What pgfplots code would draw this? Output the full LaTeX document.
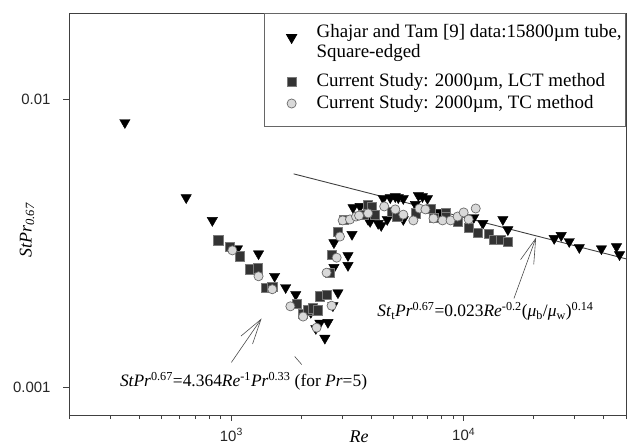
\documentclass[border=0pt]{standalone}
\usepackage{fontspec}
\setmainfont{Liberation Serif}
\newfontfamily\arialf{Liberation Sans}
\usepackage{pgfplots}
\pgfplotsset{compat=1.18}
\usetikzlibrary{arrows.meta}
\definecolor{sqfill}{HTML}{333333}
\definecolor{sqdraw}{HTML}{7A7A7A}
\definecolor{cifill}{HTML}{D9D9D9}
\definecolor{cidraw}{HTML}{6A6A6A}
\pgfplotsset{
  lgmark/.style={legend image code/.code={%
    \path[draw=none, fill=none] (0bp,-6bp) rectangle (48bp,6bp);
    \draw[mark repeat=2, mark phase=2, ##1]
      plot coordinates {(0bp,#1) (24bp,#1) (48bp,#1)};}},
  lgmark/.default=5bp,
}
\begin{document}
\begin{tikzpicture}[x=1bp,y=1bp]
\begin{axis}[
  at={(0,0)}, anchor=south west,
  scale only axis, width=557bp, height=402bp,
  xmode=log, ymode=log,
  xmin=200, xmax=50000, ymin=0.0008, ymax=0.02,
  axis line style={black!75, line width=0.8pt},
  tick pos=left, tick align=outside,
  major tick length=6bp, minor tick length=4bp,
  tick style={black!75, line width=0.7pt},
  xtick={1000,10000}, xticklabels={10\textsuperscript{3},10\textsuperscript{4}},
  minor xtick={200,300,400,500,600,700,800,900,2000,3000,4000,5000,6000,7000,8000,9000,20000,30000,40000,50000},
  ytick={0.001,0.01}, yticklabels={0.001,0.01}, yminorticks=false,
  tick label style={font=\arialf\fontsize{15}{17}\selectfont, text=black!85},
  xticklabel style={yshift=-4bp},
  yticklabel style={xshift=-9bp},
  xlabel={\textit{Re}},
  xlabel style={at={(axis description cs:0.5207,0)}, anchor=center, yshift=-22bp, font=\fontsize{18}{20}\selectfont},
  ylabel={\textit{StPr}\textsubscript{\textit{0.67}}},
  ylabel style={at={(axis description cs:-0.0754,0.46)}, anchor=center, font=\fontsize{18}{20}\selectfont},
  legend style={at={(1,1)}, anchor=north east, draw=black!60, line width=0.8pt,
    fill=white, font=\fontsize{19}{20}\selectfont, inner xsep=3bp, inner ysep=12bp,
    nodes={inner xsep=1bp}, cells={anchor=base west}, row sep=1bp},
]
% Ghajar and Tam data
\addplot[only marks, lgmark=20bp, mark=triangle*, mark size=6pt, mark options={rotate=180, fill=black, draw=black}] coordinates {
(348,0.00832) (639,0.00456) (828,0.00380) (1062,0.00303) (1309,0.00291)
(1535,0.00243) (1713,0.00222) (1893,0.00210) (2198,0.00182) (2310,0.00160)
(2404,0.00167) (2526,0.00148) (2604,0.00168) (2736,0.00192) (2876,0.00213)
(2764,0.00261) (3177,0.00287) (3177,0.00265) (2764,0.00318) (3306,0.00340)
(3340,0.00421) (3581,0.00425) (3879,0.00383) (3957,0.00377) (4286,0.00371)
(4416,0.00365) (4688,0.00383) (4505,0.00453) (4831,0.00456) (5077,0.00460)
(5231,0.00456) (5498,0.00453) (6197,0.00432) (6385,0.00464) (6645,0.00460)
(6986,0.00453) (5498,0.00383) (7873,0.00405) (11050,0.00389) (12090,0.00371)
(14750,0.00383) (15500,0.00353) (24530,0.00329) (26300,0.00337) (28480,0.00321)
(31470,0.00306) (39190,0.00303) (45500,0.00308) (46880,0.00289)
};
\addlegendentry{\raisebox{0pt}[30bp][0bp]{\vbox{\hbox{Ghajar and Tam [9] data:15800µm tube,}\hbox{Square-edged}}}}
% LCT method
\addplot[only marks, lgmark, mark=square*, mark size=4.6pt, mark options={fill=sqfill, draw=sqdraw, line width=0.6pt}] coordinates {
(879,0.00324) (987,0.00308) (1083,0.00285) (1197,0.00257) (1300,0.00259)
(1413,0.00222) (1500,0.00224) (1906,0.00195) (2036,0.00180) (2139,0.00185)
(2242,0.00188) (2357,0.00185) (2404,0.00207) (2570,0.00210) (2656,0.00250)
(2701,0.00289) (2876,0.00348) (3053,0.00383) (3701,0.00398) (3879,0.00432)
(4025,0.00425) (4159,0.00398) (4928,0.00408) (5179,0.00392) (6197,0.00402)
(7197,0.00418) (7416,0.00389) (8358,0.00405) (8358,0.00392) (9419,0.00377)
(10510,0.00359) (11497,0.00345) (12830,0.00342) (13490,0.00326) (14460,0.00326)
(15500,0.00321)
};
\addlegendentry{\rule{0pt}{20bp}Current Study: 2000µm, LCT method}
% TC method
\addplot[only marks, lgmark, mark=*, mark size=4.6pt, mark options={fill=cifill, draw=cidraw, line width=0.7pt}] coordinates {
(1010,0.00299) (1309,0.00243) (1500,0.00219) (1795,0.00191) (2036,0.00176)
(2327,0.00161) (2701,0.00192) (2570,0.00250) (2839,0.00282) (2934,0.00334)
(3014,0.00380) (3241,0.00383) (3441,0.00392) (3546,0.00395) (3879,0.00402)
(4550,0.00425) (5077,0.00415) (5498,0.00398) (6074,0.00380) (6449,0.00418)
(6847,0.00415) (7416,0.00386) (8113,0.00380) (8785,0.00380) (9419,0.00392)
(10000,0.00405) (10510,0.00383) (11270,0.00418)
};
\addlegendentry{Current Study: 2000µm, TC method}
% turbulent correlation
\addplot[black!75, line width=0.9pt, forget plot] coordinates {(1855,0.005515) (50000,0.002794)};
% annotations
\draw[black!70, line width=0.6pt, -{Straight Barb[length=25bp, width=14bp]}]
  (axis cs:1000,0.001219) -- (axis cs:1349,0.001733);
\draw[black!70, line width=0.6pt, -{Straight Barb[length=25bp, width=14bp]}]
  (axis cs:16460,0.002034) -- (axis cs:20500,0.003314);
\draw[black!70, line width=0.6pt] (axis cs:1874,0.001278) -- (axis cs:2009,0.001198);
\node[anchor=base west, inner sep=0pt, font=\fontsize{17.5}{20}\selectfont] at (axis cs:331,0.001006)
  {\textit{StPr}\textsuperscript{0.67}=4.364\textit{Re}\textsuperscript{-1}\textit{Pr}\textsuperscript{0.33} (for \textit{Pr}=5)};
\node[anchor=base west, inner sep=0pt, font=\fontsize{17.5}{20}\selectfont] at (axis cs:4243,0.001760)
  {\textit{St}\textsubscript{t}\textit{Pr}\textsuperscript{0.67}=0.023\textit{Re}\textsuperscript{-0.2}(\textit{μ}\textsubscript{b}/\textit{μ}\textsubscript{w})\textsuperscript{0.14}};
\end{axis}
\pgfresetboundingbox
\path[use as bounding box] (-69,-31) rectangle (559,415);
\end{tikzpicture}
\end{document}
